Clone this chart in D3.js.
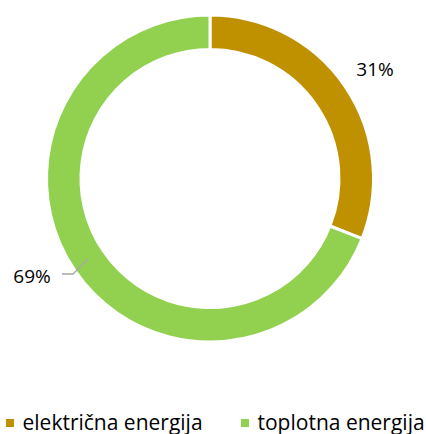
<!DOCTYPE html>
<html>
<head>
<meta charset="utf-8">
<script src="https://cdn.jsdelivr.net/npm/d3@7"></script>
<style>
  body { margin: 0; background: #fff; }
  svg { display: block; }
</style>
</head>
<body>
<div id="chart"></div>
<script>
const categories = ['električna energija', 'toplotna energija'];
const values = [31, 69];
const labels = ['31%', '69%'];
const colors = ['#BF9000', '#92D050'];

const width = 426;
const height = 434;
const cx = 210;
const cy = 178.5;
const outerR = 163.5;
const innerR = 129;

const svg = d3.select('#chart')
    .append('svg')
    .attr('width', width)
    .attr('height', height);

const pie = d3.pie().sort(null).value(d => d);
const arcs = pie(values);

const arc = d3.arc()
    .innerRadius(innerR)
    .outerRadius(outerR);

const g = svg.append('g')
    .attr('transform', `translate(${cx}, ${cy})`);

g.selectAll('path.slice')
    .data(arcs)
    .join('path')
    .attr('class', 'slice')
    .attr('d', arc)
    .attr('fill', (d, i) => colors[i])
    .attr('stroke', '#fff')
    .attr('stroke-width', 3);

const font = '"Open Sans", sans-serif';

// 31% label, outside the ring
g.append('text')
    .attr('x', 165)
    .attr('y', -102.5)
    .attr('text-anchor', 'middle')
    .attr('font-family', font)
    .attr('font-size', 19)
    .attr('fill', '#000')
    .text(labels[0]);

// 69% label with leader line
g.append('polyline')
    .attr('points', [[-122, 80.5], [-137, 95.5], [-148, 95.5]].map(p => p.join(',')).join(' '))
    .attr('fill', 'none')
    .attr('stroke', '#a6a6a6')
    .attr('stroke-width', 1.3);

g.append('text')
    .attr('x', -178)
    .attr('y', 104.5)
    .attr('text-anchor', 'middle')
    .attr('font-family', font)
    .attr('font-size', 19)
    .attr('fill', '#000')
    .text(labels[1]);

// legend
const legendX = [6, 241];
const items = svg.append('g').selectAll('g')
    .data(categories)
    .join('g')
    .attr('transform', (d, i) => `translate(${legendX[i]}, 0)`);

items.append('rect')
    .attr('x', 0)
    .attr('y', 419)
    .attr('width', 8)
    .attr('height', 8)
    .attr('fill', (d, i) => colors[i]);

items.append('text')
    .attr('x', 16.5)
    .attr('y', 430)
    .attr('font-family', font)
    .attr('font-size', 21)
    .attr('fill', '#000')
    .text(d => d);
</script>
</body>
</html>
